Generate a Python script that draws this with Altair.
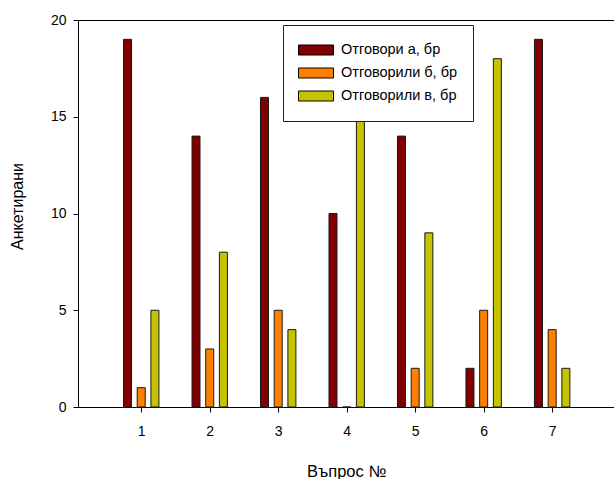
import altair as alt
import pandas as pd

# Survey answers per question
questions = [1, 2, 3, 4, 5, 6, 7]
series = ["Отговори а, бр", "Отговорили б, бр", "Отговорили в, бр"]
answers_a = [19, 14, 16, 10, 14, 2, 19]
answers_b = [1, 3, 5, 0, 2, 5, 4]
answers_c = [5, 8, 4, 15, 9, 18, 2]
colors = ["#800000", "#ff8000", "#c6c300"]
y_ticks = [0, 5, 10, 15, 20]

rows = []
for i, (name, vals) in enumerate(zip(series, [answers_a, answers_b, answers_c])):
    for q, v in zip(questions, vals):
        rows.append({"question": q, "series": name, "idx": i, "value": v})
df = pd.DataFrame(rows)

FONT = "Liberation Sans"
x_scale = alt.Scale(domain=[0.15, 7.83], nice=False, zero=False)
y_scale = alt.Scale(domain=[0, 20], nice=False)

legend_symbol = "M-1,-0.2857L1,-0.2857L1,0.2857L-1,0.2857Z"

base = alt.Chart(df).transform_calculate(
    pos="datum.question + (datum.idx - 1) * 0.2"
)

bars = base.mark_bar(size=8, stroke="#1a1a1a", strokeWidth=1).encode(
    x=alt.X(
        "pos:Q",
        scale=x_scale,
        axis=alt.Axis(
            values=questions,
            tickSize=5,
            labelPadding=12,
            labelFontSize=14,
            labelFont=FONT,
            labelColor="black",
            domainColor="black",
            tickColor="black",
            grid=False,
            title="Въпрос №",
            titleFont=FONT,
            titleFontSize=16.5,
            titleFontWeight="normal",
            titleColor="black",
            titlePadding=25,
        ),
    ),
    y=alt.Y(
        "value:Q",
        scale=y_scale,
        axis=alt.Axis(
            values=y_ticks,
            tickSize=5,
            labelPadding=7,
            labelFontSize=14,
            labelFont=FONT,
            labelColor="black",
            domainColor="black",
            tickColor="black",
            grid=False,
            title="Анкетирани",
            titleFont=FONT,
            titleFontSize=16,
            titleFontWeight="normal",
            titleColor="black",
            titlePadding=25,
            titleY=186,
        ),
    ),
    color=alt.Color(
        "series:N",
        scale=alt.Scale(domain=series, range=colors),
        legend=alt.Legend(
            orient="none",
            legendX=205,
            legendY=5,
            title=None,
            direction="vertical",
            symbolType=legend_symbol,
            symbolSize=1225,
            symbolStrokeColor="black",
            symbolStrokeWidth=1,
            clipHeight=20,
            rowPadding=3,
            labelOffset=7,
            labelFontSize=14.5,
            labelFont=FONT,
            labelColor="black",
            labelLimit=300,
            padding=15,
            strokeColor="#222222",
            fillColor="white",
        ),
    ),
)

# Top frame line drawn as a bare axis
top_frame = base.mark_point(opacity=0).encode(
    x=alt.X(
        "pos:Q",
        scale=x_scale,
        axis=alt.Axis(
            orient="top",
            ticks=False,
            labels=False,
            grid=False,
            domainColor="black",
            title=None,
        ),
    ),
    y=alt.Y("value:Q", scale=y_scale, axis=None),
)

chart = (
    alt.layer(bars, top_frame)
    .resolve_axis(x="independent", y="independent")
    .properties(
        width=536,
        height=387,
        autosize=alt.AutoSizeParams(type="none"),
        padding={"left": 78, "top": 20, "right": 0, "bottom": 72},
        background="white",
    )
    .configure_view(stroke=None)
)

chart.save("out.html", embed_options={"renderer": "svg", "actions": False})
